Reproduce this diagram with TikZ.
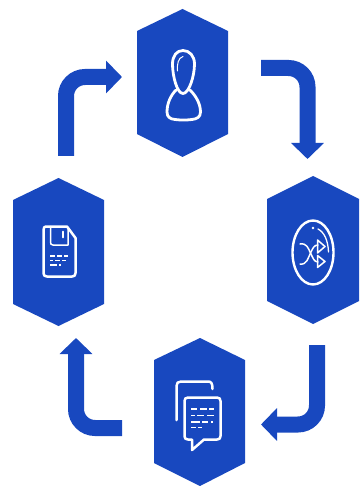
\documentclass[tikz,border=0pt]{standalone}
\usetikzlibrary{arrows.meta}
\definecolor{brandblue}{HTML}{1848BF}
\tikzset{
  hexbox/.style={fill=brandblue,draw=none},
  flow/.style={draw=brandblue,line width=16pt,rounded corners=19pt,-{Triangle[length=16pt,width=32pt]}},
  glyph/.style={draw=white,line width=2.5pt,line cap=round,line join=round},
  thinglyph/.style={draw=white,line width=1.5pt,line cap=butt},
}
\begin{document}
\begin{tikzpicture}[x=1pt,y=-1pt]
\useasboundingbox (0,0) rectangle (359,486);
% hexagons
\fill[hexbox] (182.5,9) -- (228,31) -- (228,134) -- (182.5,157) -- (137,134) -- (137,31) -- cycle;
\fill[hexbox] (313,176) -- (359,199) -- (359,301) -- (313,324) -- (267,301) -- (267,199) -- cycle;
\fill[hexbox] (200,338) -- (245,360) -- (245,463) -- (200,486) -- (154,463) -- (154,360) -- cycle;
\fill[hexbox] (58.5,178) -- (104,200) -- (104,304) -- (58.5,326) -- (13,304) -- (13,200) -- cycle;
% connector ends
\coordinate (a1) at (66,156); \coordinate (b1) at (122,77);
\coordinate (a2) at (261,68); \coordinate (b2) at (307.5,159);
\coordinate (a3) at (317,345); \coordinate (b3) at (261,424.5);
\coordinate (a4) at (122,428); \coordinate (b4) at (76,338);
\draw[flow] (a1) |- (b1);
\draw[flow] (a2) -| (b2);
\draw[flow] (a3) |- (b3);
\draw[flow] (a4) -| (b4);
% person
\draw[glyph,line width=2.8pt] (183,50.5) .. controls (176.5,50.5) and (172.5,56) .. (172.5,64)
  .. controls (172.5,76) and (177,93.5) .. (183,93.5)
  .. controls (189,93.5) and (194.5,76) .. (194.5,64)
  .. controls (194.5,56) and (189.5,50.5) .. (183,50.5) -- cycle;
\draw[glyph,line width=2.8pt] (176,90) .. controls (171,95) and (167,103) .. (167,112)
  .. controls (167,117) and (170,119) .. (175,119.5) .. controls (180,120.2) and (187,120.2) .. (192,119.5)
  .. controls (197,119) and (200.5,117) .. (200.5,112)
  .. controls (200.5,103) and (195,95) .. (190,90);
\draw[glyph,line width=1pt] (177.5,71) .. controls (177,64) and (178,58) .. (183,56.5);
% shuffle
\draw[glyph,line width=2.4pt] (313,252.5) ellipse [x radius=20.5,y radius=32];
\draw[glyph,line width=1.3pt] (318,229) .. controls (324,232) and (328,240) .. (328.5,252);
\fill[white] (313,228) circle (1.3);
\draw[glyph,line width=1.5pt] (300,244) .. controls (307,243) and (308,248) .. (310.5,253) .. controls (313,258) and (314,262) .. (318,262);
\draw[glyph,line width=1.5pt] (300,264) .. controls (307,265) and (308,258) .. (310.5,253) .. controls (313,248) and (314,245) .. (318,245);
\draw[glyph,line width=1.5pt] (317.5,240) -- (325,246.5) -- (317.5,253) -- cycle;
\draw[glyph,line width=1.5pt] (317.5,255.5) -- (325,261.5) -- (317.5,267.5) -- cycle;
% chat
\draw[glyph] (176.5,420) -- (176.5,386) .. controls (176.5,383) and (178,381.5) .. (181,381.5)
  -- (208,381.5) .. controls (211,381.5) and (212.5,383) .. (212.5,389);
\draw[glyph] (188,397.5) -- (217,397.5) .. controls (219.5,397.5) and (220.5,399) .. (220.5,401)
  -- (220.5,436) .. controls (220.5,438.5) and (219.5,439.5) .. (217,439.5)
  -- (204,439.5) -- (192,450) -- (192,439.5) -- (188,439.5)
  .. controls (185.5,439.5) and (184.5,438.5) .. (184.5,436) -- (184.5,401)
  .. controls (184.5,399) and (185.5,397.5) .. (188,397.5) -- cycle;
\draw[thinglyph] (191,409) -- (197,409) (200,409) -- (207,409) (209,409) -- (214,409);
\draw[thinglyph] (191,415.5) -- (195,415.5) (197,415.5) -- (204,415.5) (207,415.5) -- (214,415.5);
\draw[thinglyph] (191,422) -- (200,422) (202,422) -- (208,422) (211,422) -- (213,422);
\draw[thinglyph] (191,427.5) -- (196,427.5) (198,427.5) -- (202,427.5);
% document
\draw[glyph] (46,226.5) -- (67,226.5) -- (75.5,238) -- (75.5,273) .. controls (75.5,275.5) and (74.5,276.5) .. (72,276.5)
  -- (47,276.5) .. controls (44.5,276.5) and (43.5,275.5) .. (43.5,273) -- (43.5,230) .. controls (43.5,227.5) and (44.5,226.5) .. (46,226.5) -- cycle;
\draw[glyph,line width=1.5pt] (50.5,226.5) -- (50.5,242) .. controls (50.5,244) and (51,245) .. (53,245) -- (68,245) -- (68,229);
\draw[glyph,line width=1.7pt] (63,231.5) -- (63,237.5);
\draw[thinglyph] (50,256) -- (55,256) (57,256) -- (62,256) (64,256) -- (68,256);
\draw[thinglyph] (50,260.5) -- (53,260.5) (55,260.5) -- (60,260.5) (62,260.5) -- (66,260.5);
\draw[thinglyph] (50,265) -- (57,265) (59,265) -- (61,265);
\end{tikzpicture}
\end{document}
